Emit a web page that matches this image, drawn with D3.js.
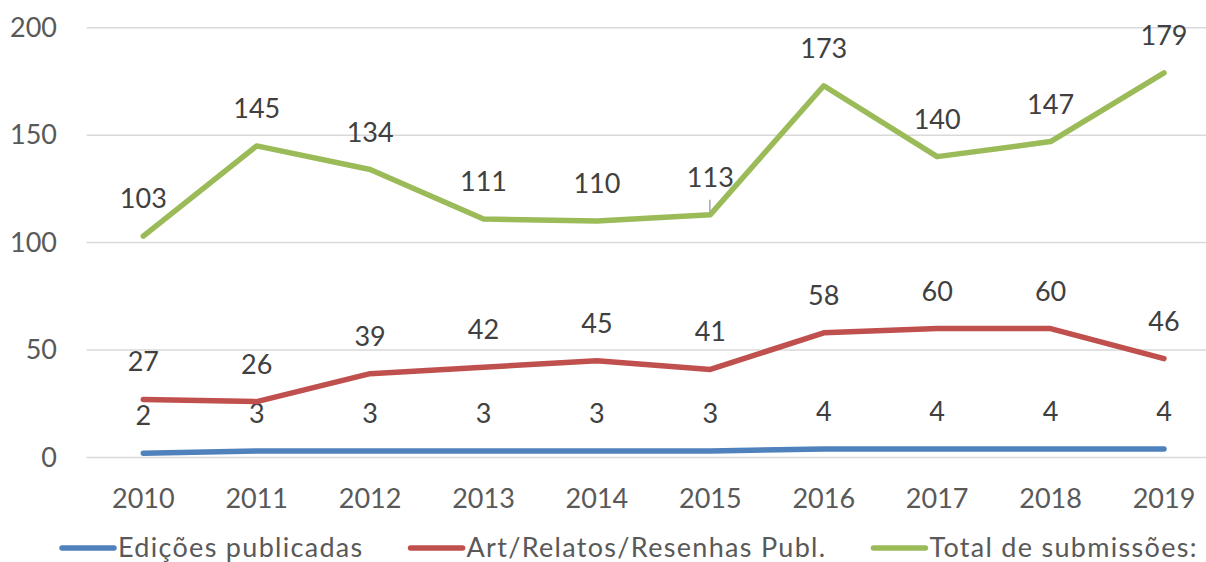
<!DOCTYPE html>
<html>
<head>
<meta charset="utf-8">
<script src="https://cdn.jsdelivr.net/npm/d3@7"></script>
<style>
  html, body { margin: 0; padding: 0; background: #fff; }
  svg { display: block; font-family: Lato, "Open Sans", sans-serif; }
</style>
</head>
<body>
<div id="chartContainer"></div>
<script>
const years = ["2010", "2011", "2012", "2013", "2014", "2015", "2016", "2017", "2018", "2019"];
const edicoes = [2, 3, 3, 3, 3, 3, 4, 4, 4, 4];
const artigos = [27, 26, 39, 42, 45, 41, 58, 60, 60, 46];
const submissoes = [103, 145, 134, 111, 110, 113, 173, 140, 147, 179];
const yTicks = [0, 50, 100, 150, 200];

const series = [
    { name: "Edições publicadas", values: edicoes, color: "#4f81bd" },
    { name: "Art/Relatos/Resenhas Publ.", values: artigos, color: "#c0504d" },
    { name: "Total de submissões:", values: submissoes, color: "#9bbb59" }
];

const width = 1206, height = 562;
const plot = { left: 86.6, right: 1220.7, top: 27.7, bottom: 457.5 };

const svg = d3.select("#chartContainer")
    .append("svg")
    .attr("width", width)
    .attr("height", height);

const x = d3.scaleBand()
    .domain(years)
    .range([plot.left, plot.right]);

const y = d3.scaleLinear()
    .domain([0, 200])
    .range([plot.bottom, plot.top]);

// gridlines
svg.append("g")
    .selectAll("line")
    .data(yTicks)
    .enter().append("line")
    .attr("x1", plot.left)
    .attr("x2", plot.right)
    .attr("y1", d => y(d))
    .attr("y2", d => y(d))
    .attr("stroke", "#d9d9d9")
    .attr("stroke-width", 1.5);

// y axis labels
svg.append("g")
    .selectAll("text")
    .data(yTicks)
    .enter().append("text")
    .attr("x", 57)
    .attr("y", d => y(d) + 9)
    .attr("text-anchor", "end")
    .attr("fill", "#595959")
    .attr("font-size", 27)
    .text(d => d);

// x axis labels
svg.append("g")
    .selectAll("text")
    .data(years)
    .enter().append("text")
    .attr("x", d => x(d) + x.bandwidth() / 2)
    .attr("y", 508)
    .attr("text-anchor", "middle")
    .attr("fill", "#595959")
    .attr("font-size", 27)
    .text(d => d);

const line = d3.line()
    .x((d, i) => x(years[i]) + x.bandwidth() / 2)
    .y(d => y(d));

series.forEach(s => {
    svg.append("path")
        .datum(s.values)
        .attr("d", line)
        .attr("fill", "none")
        .attr("stroke", s.color)
        .attr("stroke-width", 5.5)
        .attr("stroke-linejoin", "round")
        .attr("stroke-linecap", "round");

    svg.append("g")
        .selectAll("text")
        .data(s.values)
        .enter().append("text")
        .attr("x", (d, i) => x(years[i]) + x.bandwidth() / 2)
        .attr("y", d => y(d) - 28)
        .attr("text-anchor", "middle")
        .attr("fill", "#404040")
        .attr("font-size", 27)
        .text(d => d);
});

// small leader line on the 2015 label
svg.append("line")
    .attr("x1", x("2015") + x.bandwidth() / 2 - 0.5)
    .attr("x2", x("2015") + x.bandwidth() / 2 - 0.5)
    .attr("y1", y(113) - 15)
    .attr("y2", y(113) - 2)
    .attr("stroke", "#a6a6a6")
    .attr("stroke-width", 1.5);

// legend
const legend = svg.append("g");
let lx = 0;
series.forEach(s => {
    const item = legend.append("g").attr("transform", `translate(${lx},0)`);
    item.append("line")
        .attr("x1", 2).attr("x2", 54)
        .attr("y1", 0).attr("y2", 0)
        .attr("stroke", s.color)
        .attr("stroke-width", 5.5)
        .attr("stroke-linecap", "round");
    const t = item.append("text")
        .attr("x", 58)
        .attr("y", 9)
        .attr("fill", "#595959")
        .attr("font-size", 27)
        .attr("letter-spacing", 1.3)
        .text(s.name);
    lx += 58 + t.node().getComputedTextLength() + 45;
});
legend.attr("transform", "translate(60,548)");
</script>
</body>
</html>
